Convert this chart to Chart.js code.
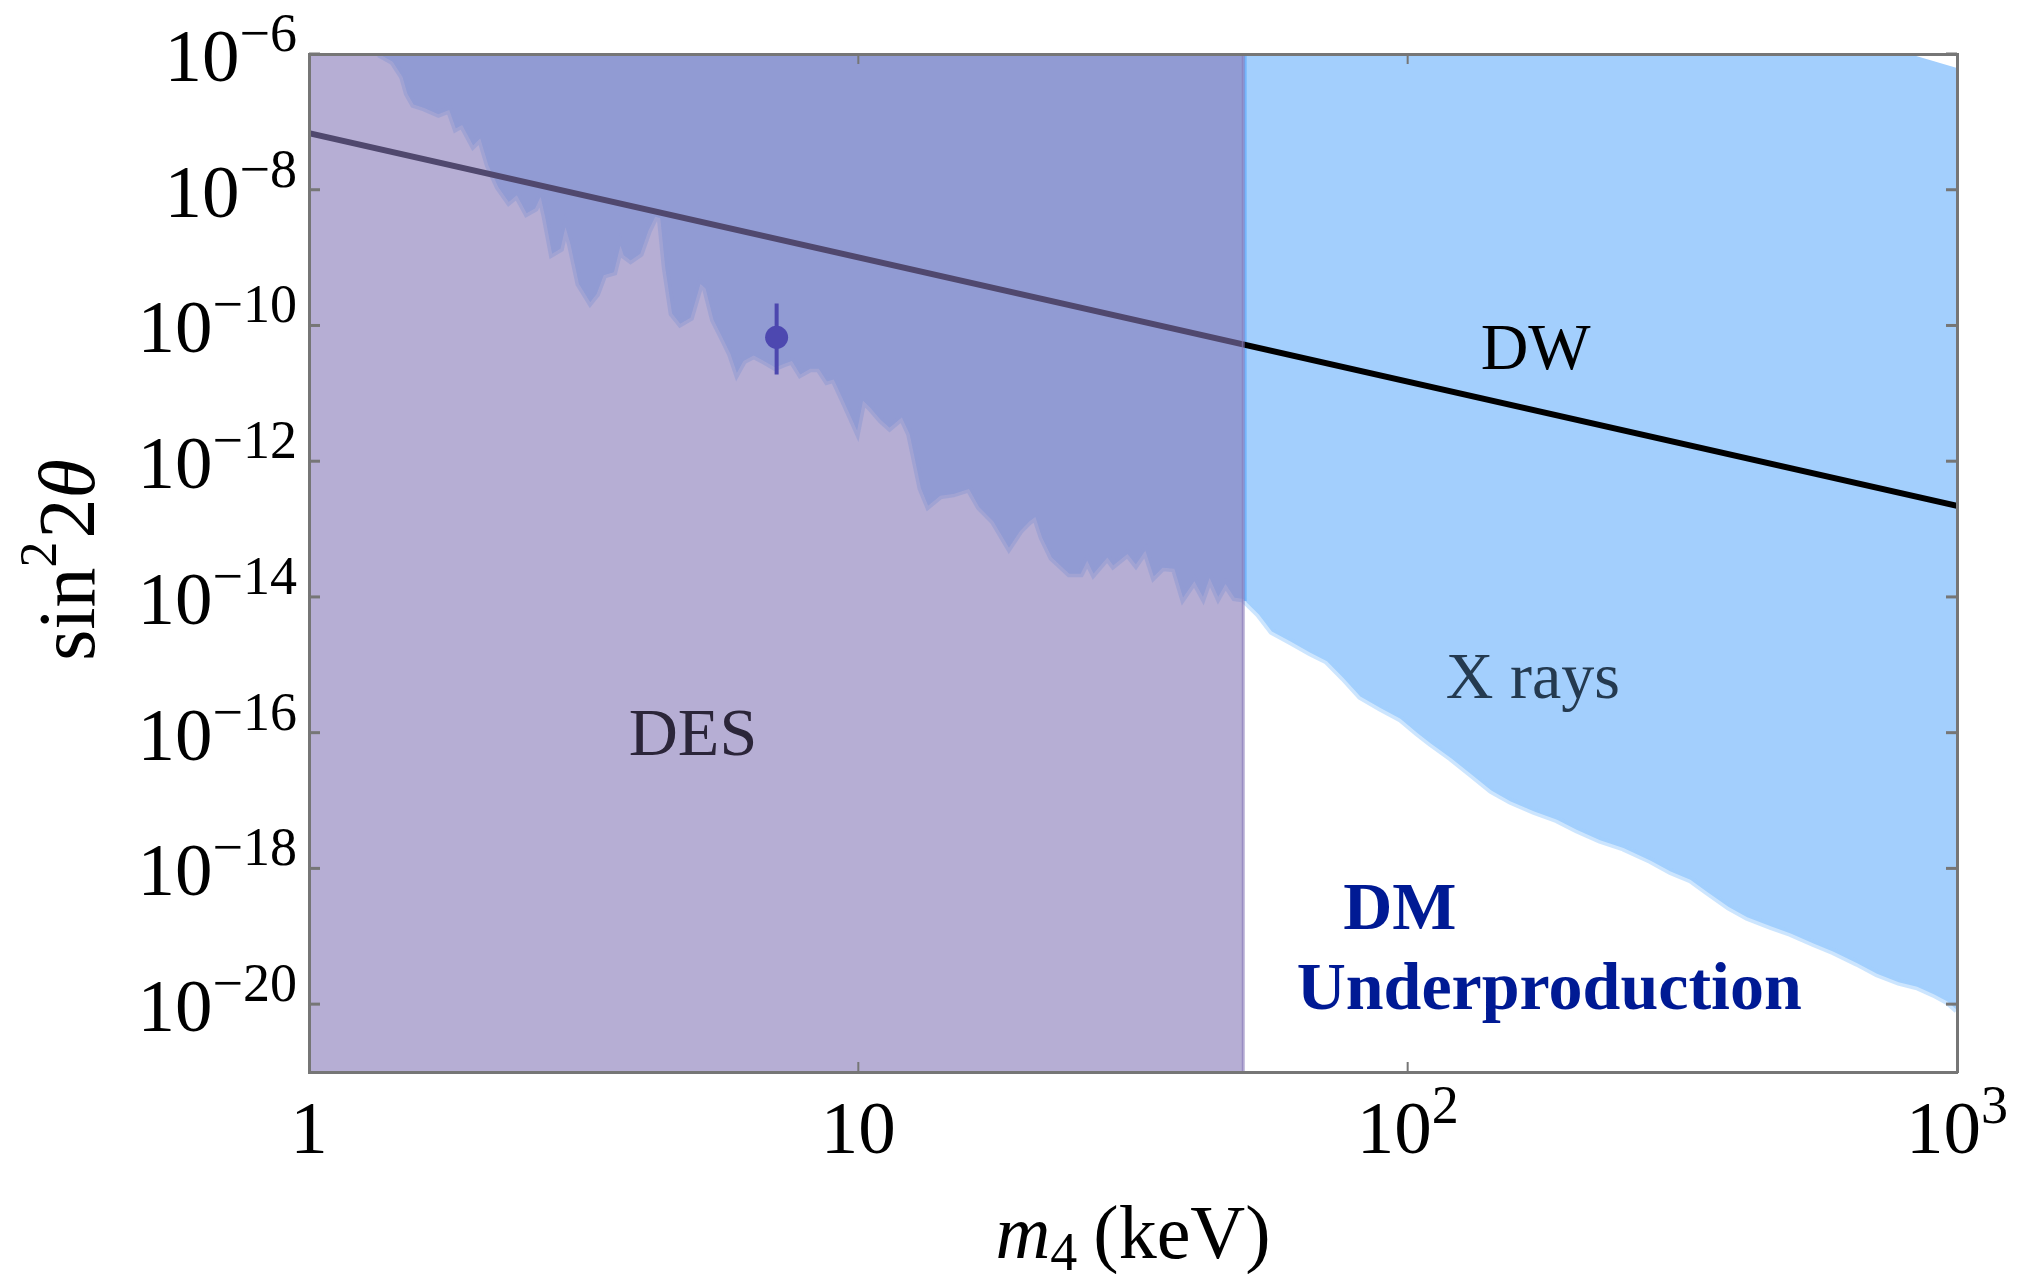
<!DOCTYPE html>
<html>
<head>
<meta charset="utf-8">
<title>Sterile neutrino mixing bounds</title>
<script src="https://cdn.jsdelivr.net/npm/chart.js@4.4.1/dist/chart.umd.min.js"></script>
<style>
  html, body { margin: 0; padding: 0; background: #fff; }
  #wrap { position: relative; width: 2017px; height: 1274px; }
</style>
</head>
<body>
<div id="wrap"><canvas id="plot"></canvas></div>
<script>
// axis ticks
var xTicks = [1, 10, 100, 1000];
var xTickBase = ['1', '10', '10', '10'];
var xTickExp = ['', '', '2', '3'];
var yTicks = [1e-6, 1e-8, 1e-10, 1e-12, 1e-14, 1e-16, 1e-18, 1e-20];
var yTickExp = ['\u22126', '\u22128', '\u221210', '\u221212', '\u221214', '\u221216', '\u221218', '\u221220'];

// Dodelson-Widrow line
var dwMass = [1, 1000];
var dwMix = [6.8e-8, 2.2e-13];

// DES excluded band (m4 < ~50 keV)
var desMass = [1, 50.2, 50.2];
var desMix = [1e-6, 1e-6, 1e-21];

// X-ray bound, lower edge (keV, sin^2 2theta)
var xrayMass = [1.34, 1.42, 1.48, 1.51, 1.55, 1.62, 1.72, 1.80, 1.85, 1.90, 1.99, 2.05, 2.12, 2.21, 2.31, 2.39,
  2.49, 2.58, 2.64, 2.69, 2.77, 2.87, 2.93, 2.99, 3.10, 3.25, 3.34, 3.44, 3.59, 3.69, 3.74, 3.85, 4.01, 4.15,
  4.27, 4.36, 4.45, 4.58, 4.74, 4.95, 5.16, 5.27, 5.45, 5.69, 5.85, 6.01, 6.18, 6.45, 6.73, 7.06, 7.31, 7.57,
  7.84, 8.18, 8.47, 8.77, 9.02, 9.40, 9.95, 10.2, 10.5, 11.0, 11.4, 12.0, 12.4, 13.0, 13.4, 14.1, 14.9, 15.9,
  16.6, 17.6, 18.8, 19.7, 20.5, 21.0, 21.6, 22.5, 24.2, 25.4, 26.1, 26.8, 28.4, 29.1, 30.9, 32.0, 33.3, 34.5,
  35.8, 37.6, 39.0, 40.9, 42.4, 43.6, 45.2, 46.6, 48.4, 50.2, 50.6, 53.6, 56.6, 61.2, 66.5, 71.3, 76.4, 82.0,
  89.2, 97.0, 104, 110, 120, 130, 142, 154, 170, 187, 203, 224, 247, 277, 301, 327, 351, 384, 415, 458, 498,
  548, 596, 658, 715, 783, 846, 907, 959, 1000];
var xrayMix = [1.0e-6, 7.7e-7, 4.6e-7, 2.6e-7, 1.8e-7, 1.6e-7, 1.3e-7, 1.5e-7, 8.0e-8, 9.0e-8, 4.5e-8, 5.7e-8,
  2.3e-8, 1.1e-8, 6.6e-9, 8.3e-9, 4.5e-9, 5.3e-9, 7.8e-9, 4.0e-9, 1.14e-9, 1.35e-9, 2.8e-9, 1.6e-9, 4.1e-10,
  2.2e-10, 2.9e-10, 5.5e-10, 6.1e-10, 1.5e-9, 1.08e-9, 9.1e-10, 1.14e-9, 2.5e-9, 4.0e-9, 3.8e-9, 7.2e-10,
  1.5e-10, 1.06e-10, 1.3e-10, 4.1e-10, 3.5e-10, 1.2e-10, 6.0e-11, 3.8e-11, 2.0e-11, 3.0e-11, 3.6e-11, 3.0e-11,
  2.4e-11, 2.7e-11, 3.0e-11, 1.9e-11, 2.3e-11, 2.3e-11, 1.5e-11, 1.6e-11, 7.8e-12, 2.8e-12, 7.8e-12, 6.2e-12,
  4.0e-12, 3.1e-12, 4.4e-12, 2.5e-12, 4.0e-13, 2.2e-13, 3.1e-13, 3.3e-13, 3.9e-13, 2.1e-13, 1.3e-13, 5.3e-14,
  9.4e-14, 1.3e-13, 1.5e-13, 7.5e-14, 3.8e-14, 2.2e-14, 2.2e-14, 3.4e-14, 2.2e-14, 3.8e-14, 2.9e-14, 4.3e-14,
  3.0e-14, 4.8e-14, 2.0e-14, 2.7e-14, 2.6e-14, 9.7e-15, 1.7e-14, 1.0e-14, 1.9e-14, 1.0e-14, 1.55e-14, 9.7e-15,
  9.3e-15, 8.7e-15, 5.5e-15, 3.1e-15, 2.2e-15, 1.5e-15, 1.13e-15, 6.4e-16, 3.4e-16, 2.3e-16, 1.6e-16, 1.0e-16,
  7.0e-17, 4.2e-17, 2.5e-17, 1.4e-17, 9.7e-18, 6.9e-18, 5.2e-18, 3.7e-18, 2.6e-18, 2.0e-18, 1.3e-18, 9.0e-19,
  6.8e-19, 4.5e-19, 2.7e-19, 1.9e-19, 1.4e-19, 1.1e-19, 7.8e-20, 5.9e-20, 4.0e-20, 2.8e-20, 2.1e-20, 1.8e-20,
  1.4e-20, 1.1e-20, 8.2e-21];
// X-ray bound, upper edge
var xrayTopMass = [1.34, 819, 1000];
var xrayTopMix = [1e-6, 1e-6, 6.2e-7];
// edge of the X-ray patch at the DES boundary
var xrayEdgeMass = [50.6, 50.6];
var xrayEdgeMix = [1e-6, 8.7e-15];

// 3.5 keV line candidate
var lineMass = [7.1];
var lineMix = [6.7e-11];
var lineLo = [1.9e-11];
var lineHi = [2.1e-10];

// text annotations (data coordinates)
var notes = [
  { text: 'DW', x: 171, y: 2.26e-11, font: '66px', color: '#000000' },
  { text: 'X rays', x: 169, y: 3.24e-16, font: '66px', color: '#243a50' },
  { text: 'DES', x: 5.0, y: 4.7e-17, font: '68px', color: '#2b2539' },
  { text: 'DM', x: 96.8, y: 1.28e-19, font: 'bold 68px', color: '#001a94' },
  { text: 'Underproduction', x: 181, y: 8.5e-21, font: 'bold 68px', color: '#001a94' }
];

(function () {
  'use strict';

  var SERIF = '"Liberation Serif", "Times New Roman", serif';
  var FRAME = '#767676';

  function pts(xs, ys) {
    return xs.map(function (x, i) { return { x: x, y: ys[i] }; });
  }

  function seg(ctx, x1, y1, x2, y2) {
    ctx.beginPath(); ctx.moveTo(x1, y1); ctx.lineTo(x2, y2); ctx.stroke();
  }

  // "10" with raised exponent
  function power(ctx, base, exp, x, baseline, align) {
    ctx.font = '75px ' + SERIF;
    var wb = ctx.measureText(base).width;
    ctx.font = '54px ' + SERIF;
    var we = exp ? ctx.measureText(exp).width : 0;
    var x0 = align === 'right' ? x - wb - we : x - (wb + we) / 2;
    ctx.font = '75px ' + SERIF;
    ctx.fillText(base, x0, baseline);
    if (exp) {
      ctx.font = '54px ' + SERIF;
      ctx.fillText(exp, x0 + wb, baseline - 30);
    }
  }

  // pieces of rich text, centred on x
  function pieces(ctx, parts, x, y) {
    var total = 0;
    parts.forEach(function (p) {
      ctx.font = p.font + ' ' + SERIF;
      p.w = ctx.measureText(p.t).width;
      total += p.w + (p.gap || 0);
    });
    var cx = x - total / 2;
    parts.forEach(function (p) {
      ctx.font = p.font + ' ' + SERIF;
      ctx.fillText(p.t, cx, y + (p.dy || 0));
      cx += p.w + (p.gap || 0);
    });
  }

  var mathLabels = {
    id: 'mathLabels',
    afterDraw: function (chart) {
      var ctx = chart.ctx, a = chart.chartArea;
      var sx = chart.scales.x, sy = chart.scales.y;
      ctx.save();

      // inward frame ticks
      ctx.strokeStyle = FRAME;
      ctx.lineWidth = 2;
      sx.ticks.forEach(function (t) {
        var px = sx.getPixelForValue(t.value);
        seg(ctx, px, a.bottom, px, a.bottom - 10);
        seg(ctx, px, a.top, px, a.top + 10);
      });
      ctx.lineWidth = 3;
      sy.ticks.forEach(function (t) {
        var py = sy.getPixelForValue(t.value);
        seg(ctx, a.left, py, a.left + 11, py);
        seg(ctx, a.right, py, a.right - 11, py);
      });

      // region labels
      ctx.textAlign = 'center';
      ctx.textBaseline = 'alphabetic';
      notes.forEach(function (n) {
        ctx.font = n.font + ' ' + SERIF;
        ctx.fillStyle = n.color;
        ctx.fillText(n.text, sx.getPixelForValue(n.x), sy.getPixelForValue(n.y));
      });

      // tick labels
      ctx.textAlign = 'left';
      ctx.fillStyle = '#000';
      sx.ticks.forEach(function (t, i) {
        power(ctx, xTickBase[i], xTickExp[i], sx.getPixelForValue(t.value), a.bottom + 81, 'center');
      });
      sy.ticks.forEach(function (t, i) {
        power(ctx, '10', yTickExp[i], a.left - 12, sy.getPixelForValue(t.value) + 27, 'right');
      });

      // axis titles
      pieces(ctx, [
        { t: 'm', font: 'italic 76px' },
        { t: '4', font: '54px', dy: 12, gap: 16 },
        { t: '(keV)', font: '76px' }
      ], (a.left + a.right) / 2, a.bottom + 186);

      ctx.save();
      ctx.translate(94, 560);
      ctx.rotate(-Math.PI / 2);
      pieces(ctx, [
        { t: 'sin', font: '80px' },
        { t: '2', font: '52px', dy: -38, gap: 3 },
        { t: '2', font: '80px' },
        { t: '\u03b8', font: 'italic 80px' }
      ], 0, 0);
      ctx.restore();

      ctx.restore();
    }
  };

  function frameAxis(pos, extra) {
    var o = {
      position: pos,
      display: true,
      ticks: { display: false, callback: function () { return ''; } },
      grid: { display: false, drawTicks: false },
      border: { display: true, color: FRAME, width: 3, z: 1 }
    };
    Object.keys(extra).forEach(function (k) { o[k] = extra[k]; });
    return o;
  }

  var datasets = [
    { label: 'X-ray upper edge', data: pts(xrayTopMass, xrayTopMix), borderWidth: 0,
      borderColor: 'transparent', pointRadius: 0, fill: false, clip: 0, order: 7 },
    { label: 'X rays', data: pts(xrayMass, xrayMix), borderColor: 'rgba(163,207,253,0.55)',
      borderWidth: 7, backgroundColor: '#a3cffd', pointRadius: 0, fill: '-1', clip: 0, order: 6 },
    { label: 'X-ray edge', data: pts(xrayEdgeMass, xrayEdgeMix), borderColor: 'rgba(95,170,250,0.7)',
      borderWidth: 3, pointRadius: 0, fill: false, clip: 0, order: 5 },
    { label: 'DW', data: pts(dwMass, dwMix), borderColor: '#000000', borderWidth: 6,
      pointRadius: 0, fill: false, clip: 0, order: 4 },
    { label: 'DES', data: pts(desMass, desMix), borderColor: 'rgba(133,120,183,0.6)', borderWidth: 3,
      backgroundColor: 'rgba(133,120,183,0.6)', pointRadius: 0, fill: 'start', clip: 0, order: 3 },
    { label: '3.5 keV error', data: [{ x: lineMass[0], y: lineHi[0] }, { x: lineMass[0], y: lineLo[0] }],
      borderColor: '#4c47ae', borderWidth: 4, pointRadius: 0, fill: false, order: 2 },
    { label: '3.5 keV', data: pts(lineMass, lineMix), showLine: false, pointRadius: 11.5,
      pointBackgroundColor: '#4d48b0', pointBorderWidth: 0, fill: false, order: 1 }
  ];

  new Chart(document.getElementById('plot'), {
    type: 'line',
    data: { datasets: datasets },
    options: {
      responsive: true,
      maintainAspectRatio: false,
      animation: false,
      events: [],
      layout: { padding: { left: 309, right: 60, top: 54, bottom: 202 } },
      plugins: { legend: { display: false }, tooltip: { enabled: false } },
      scales: {
        x: frameAxis('bottom', {
          type: 'logarithmic', min: 1, max: 1000,
          afterBuildTicks: function (s) { s.ticks = xTicks.map(function (v) { return { value: v }; }); }
        }),
        y: frameAxis('left', {
          type: 'logarithmic', min: 1e-21, max: 1e-6,
          afterBuildTicks: function (s) { s.ticks = yTicks.map(function (v) { return { value: v }; }); }
        }),
        xTop: frameAxis('top', { type: 'linear', min: 0, max: 1 }),
        yRight: frameAxis('right', { type: 'linear', min: 0, max: 1 })
      }
    },
    plugins: [mathLabels]
  });
})();
</script>
</body>
</html>
